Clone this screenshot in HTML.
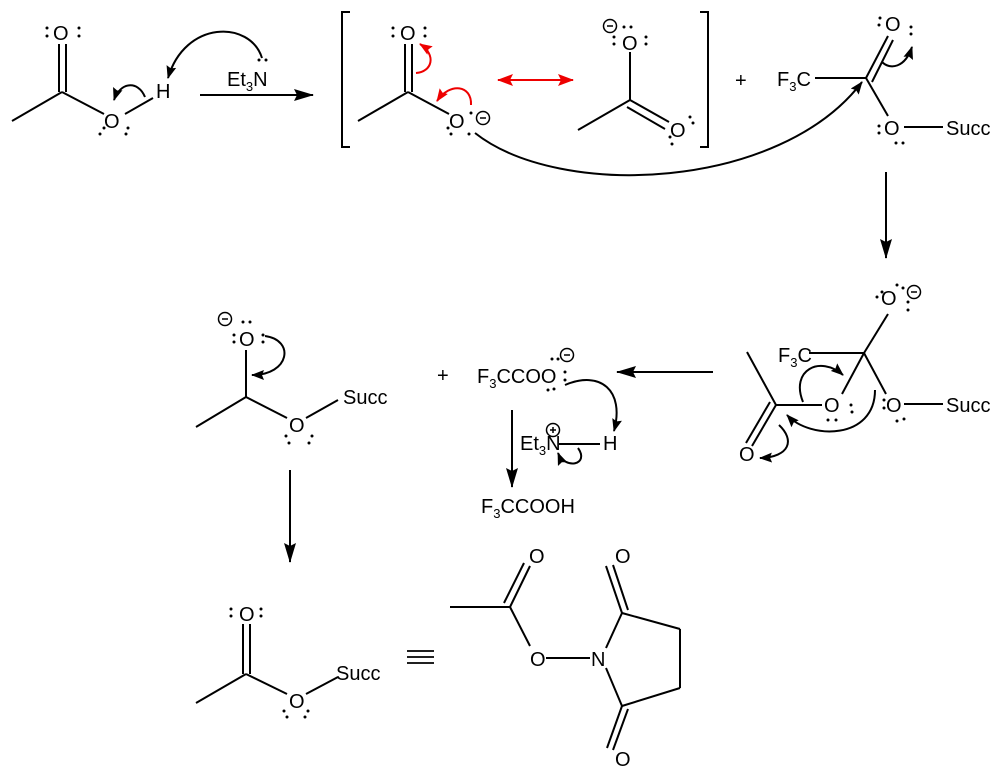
<!DOCTYPE html>
<html><head><meta charset="utf-8"><style>
html,body{margin:0;padding:0;background:#fff;}
svg{display:block;}
text{font-family:"Liberation Sans",Arial,sans-serif;fill:#000;}
</style></head><body>
<svg width="1000" height="776" viewBox="0 0 1000 776" xmlns="http://www.w3.org/2000/svg">
<defs>
<marker id="ah" markerWidth="13" markerHeight="10" refX="12" refY="5" orient="auto" markerUnits="userSpaceOnUse"><path d="M0,0 L13,5 L0,10 L2,5 Z" fill="#000"/></marker>
<marker id="big" markerWidth="20" markerHeight="12" refX="19" refY="6" orient="auto" markerUnits="userSpaceOnUse"><path d="M0,0 L20,6 L0,12 L3,6 Z" fill="#000"/></marker>
<marker id="rh" markerWidth="13" markerHeight="10" refX="12" refY="5" orient="auto" markerUnits="userSpaceOnUse"><path d="M0,0 L13,5 L0,10 L2,5 Z" fill="#e00"/></marker>
<marker id="rhs" markerWidth="16" markerHeight="12" refX="15" refY="6" orient="auto-start-reverse" markerUnits="userSpaceOnUse"><path d="M0,0 L16,6 L0,12 L3,6 Z" fill="#e00"/></marker>
</defs>
<g stroke="#000" stroke-width="2" fill="none">
<!-- mol1 -->
<line x1="59" y1="44" x2="59" y2="92"/><line x1="66" y1="44" x2="66" y2="92"/>
<line x1="62" y1="92" x2="12" y2="121"/><line x1="62" y1="92" x2="104" y2="114"/>
<line x1="125" y1="114" x2="153" y2="98"/>
<path d="M145,97 C138,80 120,82 114,100" marker-end="url(#ah)"/>
<path d="M262,58 C250,20 185,20 168,78" marker-end="url(#ah)"/>
<line x1="200" y1="95" x2="313" y2="95" marker-end="url(#big)"/>
<!-- brackets -->
<path d="M350,12 L342,12 L342,147 L350,147"/>
<path d="M700,12 L708,12 L708,147 L700,147"/>
<!-- mol2 -->
<line x1="405" y1="44" x2="405" y2="92"/><line x1="412" y1="44" x2="412" y2="92"/>
<line x1="408" y1="92" x2="358" y2="121"/><line x1="408" y1="92" x2="449" y2="114"/>
<!-- mol3 -->
<line x1="630" y1="52" x2="630" y2="100"/>
<line x1="630" y1="100" x2="578" y2="130"/>
<line x1="630" y1="100" x2="669" y2="122"/><line x1="627" y1="107" x2="665" y2="129"/>
<!-- mol4 -->
<line x1="815" y1="78" x2="866" y2="78"/>
<line x1="866" y1="78" x2="888" y2="36"/><line x1="872" y1="82" x2="893" y2="40"/>
<line x1="866" y1="78" x2="888" y2="116"/>
<line x1="904" y1="127" x2="943" y2="127"/>
<path d="M882,62 C890,70 905,68 912,47" marker-end="url(#ah)"/>
<path d="M475,133 C560,200 780,190 862,82" marker-end="url(#ah)"/>
<line x1="886" y1="172" x2="886" y2="258" marker-end="url(#big)"/>
<!-- mol5 -->
<line x1="809" y1="353" x2="864" y2="353"/>
<line x1="864" y1="353" x2="888" y2="314"/>
<line x1="864" y1="353" x2="842" y2="394"/>
<line x1="864" y1="353" x2="886" y2="394"/>
<line x1="904" y1="404" x2="943" y2="404"/>
<line x1="776" y1="405" x2="822" y2="405"/>
<line x1="776" y1="405" x2="747" y2="352"/>
<line x1="776" y1="405" x2="752" y2="446"/><line x1="770" y1="402" x2="746" y2="443"/>
<path d="M803,402 C790,370 820,355 843,375" marker-end="url(#ah)"/>
<path d="M875,390 C875,440 810,440 787,415" marker-end="url(#ah)"/>
<path d="M779,425 C795,440 790,457 760,458" marker-end="url(#ah)"/>
<line x1="713" y1="372" x2="617" y2="372" marker-end="url(#big)"/>
<!-- mol6 -->
<path d="M565,385 C600,370 625,390 614,431" marker-end="url(#ah)"/>
<line x1="559" y1="444" x2="600" y2="444"/>
<path d="M578,448 C590,465 565,470 558,453" marker-end="url(#ah)"/>
<line x1="512" y1="410" x2="512" y2="487" marker-end="url(#big)"/>
<!-- mol7 -->
<line x1="246" y1="350" x2="246" y2="397"/>
<line x1="246" y1="397" x2="196" y2="427"/><line x1="246" y1="397" x2="287" y2="418"/>
<line x1="306" y1="418" x2="338" y2="400"/>
<path d="M265,336 C295,340 290,375 252,375" marker-end="url(#ah)"/>
<line x1="290" y1="470" x2="290" y2="562" marker-end="url(#big)"/>
<!-- mol8 -->
<line x1="243" y1="624" x2="243" y2="674"/><line x1="250" y1="624" x2="250" y2="674"/>
<line x1="246" y1="674" x2="196" y2="703"/><line x1="246" y1="674" x2="287" y2="694"/>
<line x1="306" y1="694" x2="338" y2="677"/>
<line x1="407" y1="651" x2="434" y2="651" stroke-width="1.8"/>
<line x1="407" y1="657" x2="434" y2="657" stroke-width="1.8"/>
<line x1="407" y1="663" x2="434" y2="663" stroke-width="1.8"/>
<!-- NHS ester -->
<line x1="450" y1="607" x2="510" y2="607"/>
<line x1="510" y1="607" x2="530" y2="566"/><line x1="504" y1="603" x2="524" y2="563"/>
<line x1="510" y1="607" x2="530" y2="646"/>
<line x1="546" y1="658" x2="590" y2="658"/>
<line x1="606" y1="648" x2="622" y2="613"/>
<line x1="622" y1="613" x2="606" y2="566"/><line x1="628" y1="610" x2="613" y2="565"/>
<line x1="622" y1="613" x2="680" y2="629"/>
<line x1="680" y1="629" x2="680" y2="688"/>
<line x1="680" y1="688" x2="622" y2="706"/>
<line x1="606" y1="668" x2="622" y2="706"/>
<line x1="622" y1="706" x2="607" y2="748"/><line x1="628" y1="709" x2="613" y2="750"/>
</g>
<!-- red arrows -->
<g stroke="#e00" stroke-width="2" fill="none">
<path d="M416,73 C432,72 437,55 420,44" marker-end="url(#rh)"/>
<path d="M471,105 C472,85 450,82 437,101" marker-end="url(#rh)"/>
<line x1="498" y1="80" x2="573" y2="80" marker-start="url(#rhs)" marker-end="url(#rhs)"/>
</g>
<g font-size="20">
<text x="53" y="40">O</text>
<text x="104" y="128">O</text>
<text x="156" y="98">H</text>
<text x="227" y="86">Et<tspan font-size="13" dy="5">3</tspan><tspan dy="-5">N</tspan></text>
<text x="400" y="40">O</text>
<text x="449" y="128">O</text>
<text x="622" y="50">O</text>
<text x="670" y="137">O</text>
<text x="735" y="87">+</text>
<text x="777" y="86">F<tspan font-size="13" dy="5">3</tspan><tspan dy="-5">C</tspan></text>
<text x="885" y="31">O</text>
<text x="884" y="135">O</text>
<text x="946" y="135">Succ</text>
<text x="881" y="305">O</text>
<text x="778" y="362">F<tspan font-size="13" dy="5">3</tspan><tspan dy="-5">C</tspan></text>
<text x="824" y="412">O</text>
<text x="886" y="412">O</text>
<text x="946" y="412">Succ</text>
<text x="739" y="461">O</text>
<text x="437" y="382">+</text>
<text x="477" y="383">F<tspan font-size="13" dy="5">3</tspan><tspan dy="-5">CCOO</tspan></text>
<text x="520" y="450">Et<tspan font-size="13" dy="5">3</tspan><tspan dy="-5">N</tspan></text>
<text x="603" y="450">H</text>
<text x="481" y="513">F<tspan font-size="13" dy="5">3</tspan><tspan dy="-5">CCOOH</tspan></text>
<text x="239" y="346">O</text>
<text x="289" y="432">O</text>
<text x="343" y="404">Succ</text>
<text x="239" y="621">O</text>
<text x="289" y="708">O</text>
<text x="336" y="680">Succ</text>
<text x="529" y="563">O</text>
<text x="530" y="666">O</text>
<text x="591" y="666">N</text>
<text x="615" y="563">O</text>
<text x="615" y="766">O</text>
</g>
<!-- charges -->
<g fill="none" stroke="#000" stroke-width="1.5">
<circle cx="483" cy="118" r="6.5"/><line x1="480" y1="118" x2="486" y2="118"/>
<circle cx="610" cy="26" r="6.5"/><line x1="607" y1="26" x2="613" y2="26"/>
<circle cx="914" cy="292" r="6.5"/><line x1="911" y1="292" x2="917" y2="292"/>
<circle cx="567" cy="355" r="6.5"/><line x1="564" y1="355" x2="570" y2="355"/>
<circle cx="553" cy="430" r="6.5"/><line x1="550" y1="430" x2="556" y2="430"/><line x1="553" y1="427" x2="553" y2="433"/>
<circle cx="225" cy="319" r="6.5"/><line x1="222" y1="319" x2="228" y2="319"/>
</g>
<!-- lone pair dots -->
<g fill="#000">
<circle cx="47" cy="28" r="1.5"/><circle cx="47" cy="36" r="1.5"/><circle cx="79" cy="28" r="1.5"/><circle cx="79" cy="36" r="1.5"/>
<circle cx="100" cy="134" r="1.5"/><circle cx="104" cy="128" r="1.5"/><circle cx="126" cy="134" r="1.5"/><circle cx="128" cy="128" r="1.5"/>
<circle cx="259" cy="60" r="1.5"/><circle cx="266" cy="60" r="1.5"/>
<circle cx="393" cy="28" r="1.5"/><circle cx="393" cy="36" r="1.5"/><circle cx="425" cy="28" r="1.5"/><circle cx="425" cy="36" r="1.5"/>
<circle cx="451" cy="134" r="1.5"/><circle cx="448" cy="128" r="1.5"/><circle cx="469" cy="134" r="1.5"/><circle cx="471" cy="113" r="1.5"/>
<circle cx="614" cy="44" r="1.5"/><circle cx="614" cy="37" r="1.5"/><circle cx="646" cy="44" r="1.5"/><circle cx="646" cy="37" r="1.5"/>
<circle cx="624" cy="27" r="1.5"/><circle cx="631" cy="27" r="1.5"/>
<circle cx="670" cy="137" r="1.5"/><circle cx="672" cy="144" r="1.5"/><circle cx="690" cy="117" r="1.5"/><circle cx="693" cy="123" r="1.5"/>
<circle cx="880" cy="18" r="1.5"/><circle cx="879" cy="25" r="1.5"/><circle cx="911" cy="27" r="1.5"/><circle cx="911" cy="34" r="1.5"/>
<circle cx="879" cy="126" r="1.5"/><circle cx="879" cy="133" r="1.5"/><circle cx="896" cy="143" r="1.5"/><circle cx="903" cy="143" r="1.5"/>
<circle cx="877" cy="297" r="1.5"/><circle cx="882" cy="292" r="1.5"/><circle cx="897" cy="285" r="1.5"/><circle cx="903" cy="288" r="1.5"/><circle cx="908" cy="302" r="1.5"/><circle cx="908" cy="310" r="1.5"/>
<circle cx="851" cy="405" r="1.5"/><circle cx="852" cy="412" r="1.5"/><circle cx="828" cy="420" r="1.5"/><circle cx="836" cy="420" r="1.5"/>
<circle cx="884" cy="400" r="1.5"/><circle cx="884" cy="408" r="1.5"/><circle cx="897" cy="421" r="1.5"/><circle cx="904" cy="419" r="1.5"/>
<circle cx="552" cy="359" r="1.5"/><circle cx="558" cy="359" r="1.5"/><circle cx="565" cy="372" r="1.5"/><circle cx="565" cy="380" r="1.5"/><circle cx="548" cy="390" r="1.5"/><circle cx="554" cy="389" r="1.5"/>
<circle cx="234" cy="335" r="1.5"/><circle cx="234" cy="342" r="1.5"/><circle cx="263" cy="335" r="1.5"/><circle cx="263" cy="342" r="1.5"/><circle cx="243" cy="322" r="1.5"/><circle cx="250" cy="322" r="1.5"/>
<circle cx="286" cy="436" r="1.5"/><circle cx="289" cy="443" r="1.5"/><circle cx="312" cy="436" r="1.5"/><circle cx="309" cy="443" r="1.5"/>
<circle cx="231" cy="609" r="1.5"/><circle cx="231" cy="616" r="1.5"/><circle cx="261" cy="609" r="1.5"/><circle cx="261" cy="616" r="1.5"/>
<circle cx="284" cy="711" r="1.5"/><circle cx="287" cy="717" r="1.5"/><circle cx="305" cy="717" r="1.5"/><circle cx="308" cy="711" r="1.5"/>
</g>
</svg>
</body></html>
